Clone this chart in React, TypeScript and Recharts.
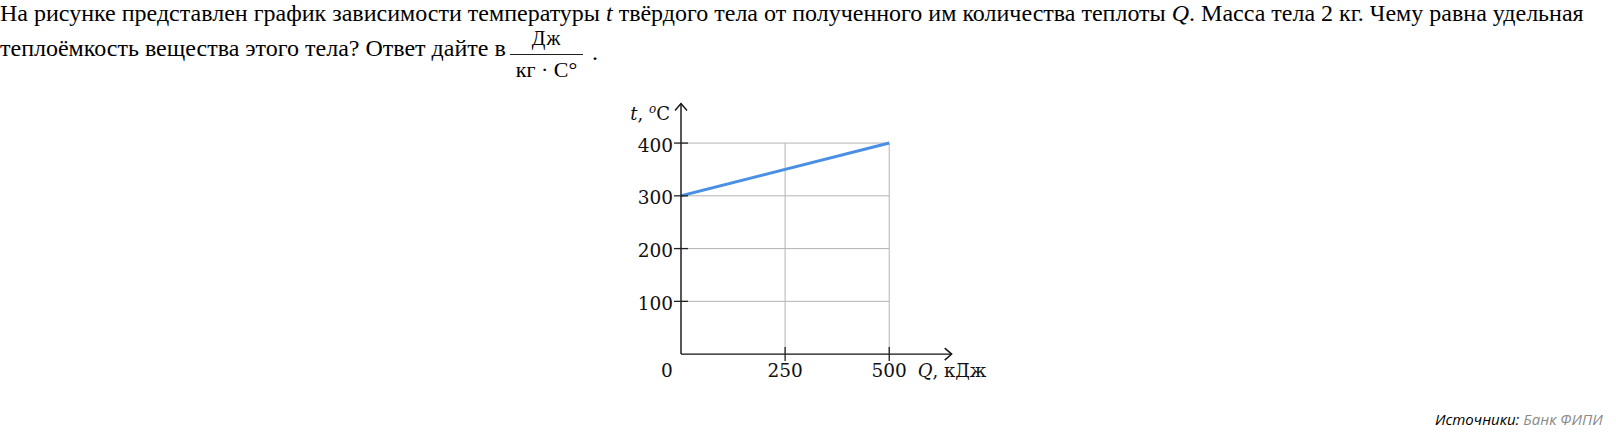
import React from 'react';
import { LineChart, Line, XAxis, YAxis, ReferenceLine, ReferenceDot } from 'recharts';

// ---- data ----
const qValues = [0, 500]; // Q, kJ
const tValues = [300, 400]; // t, °C
const xTicks = [0, 250, 500];
const yTicks = [100, 200, 300, 400];
const xDomainMax = 650;
const yDomainMax = 475;
const gridXMax = 500;
const gridYMax = 400;
const xAxisLabel = 'кДж';
const yAxisUnit = 'C';

const data = qValues.map((q, i) => ({ q, t: tValues[i] }));

// ---- styles ----
const TICK_SIZE = 7;
const X_TICK_MARGIN = 2;
const Y_TICK_MARGIN = 1;
const AXIS_FONT = '"DejaVu Serif", serif';
const AXIS_FONT_SIZE = 18.5;
const TEXT_COLOR = '#111';
const LINE_COLOR = '#4a8fe3';
const GRID_COLOR = '#b3b3b3';

const XTick = (props: any) => {
  const { x, y, payload } = props;
  const v = payload.value;
  const axisY = y - TICK_SIZE - X_TICK_MARGIN;
  return (
    <g>
      {v !== 0 && (
        <line x1={x} x2={x} y1={axisY - 7} y2={axisY + 7} stroke="#222" strokeWidth={1.3} />
      )}
      <text
        x={v === 0 ? x - 14 : x}
        y={axisY + 23}
        textAnchor="middle"
        fontFamily={AXIS_FONT}
        fontSize={AXIS_FONT_SIZE}
        fill={TEXT_COLOR}
      >
        {v}
      </text>
    </g>
  );
};

const YTick = (props: any) => {
  const { x, y, payload } = props;
  const axisX = x + TICK_SIZE + Y_TICK_MARGIN;
  return (
    <g>
      <line x1={axisX - 7} x2={axisX + 7} y1={y} y2={y} stroke="#222" strokeWidth={1.3} />
      <text
        x={x}
        y={y + 8.5}
        textAnchor="end"
        fontFamily={AXIS_FONT}
        fontSize={AXIS_FONT_SIZE}
        fill={TEXT_COLOR}
      >
        {payload.value}
      </text>
    </g>
  );
};

const XArrow = (props: any) => {
  const { cx, cy } = props;
  return (
    <path
      d={`M${cx - 7},${cy - 6} L${cx},${cy} L${cx - 7},${cy + 6}`}
      fill="none"
      stroke="#111"
      strokeWidth={1.4}
    />
  );
};

const YArrow = (props: any) => {
  const { cx, cy } = props;
  return (
    <path
      d={`M${cx - 6},${cy + 7} L${cx},${cy} L${cx + 6},${cy + 7}`}
      fill="none"
      stroke="#111"
      strokeWidth={1.4}
    />
  );
};

const YLabel = (props: any) => {
  const { viewBox } = props;
  const x = viewBox.x + viewBox.width - 11;
  const y = viewBox.y + 16.5;
  return (
    <text x={x} y={y} textAnchor="end" fontFamily={AXIS_FONT} fontSize={18} fill={TEXT_COLOR}>
      <tspan fontStyle="italic">t</tspan>
      <tspan>, </tspan>
      <tspan fontStyle="italic" fontSize={12} dy={-7}>o</tspan>
      <tspan dy={7}>{yAxisUnit}</tspan>
    </text>
  );
};

const XLabel = (props: any) => {
  const { viewBox } = props;
  const x = viewBox.x + viewBox.width - 34;
  const y = viewBox.y + 23;
  return (
    <text x={x} y={y} textAnchor="start" fontFamily={AXIS_FONT} fontSize={18} fill={TEXT_COLOR}>
      <tspan fontStyle="italic">Q</tspan>
      <tspan>, {xAxisLabel}</tspan>
    </text>
  );
};

const titleFont = '"Liberation Serif", "Times New Roman", serif';
const textLine: React.CSSProperties = {
  position: 'absolute',
  left: 0,
  fontFamily: titleFont,
  fontSize: 24,
  lineHeight: '24px',
  whiteSpace: 'nowrap',
  color: '#000',
};
const fracPart: React.CSSProperties = {
  position: 'absolute',
  left: 510,
  width: 73,
  textAlign: 'center',
  fontFamily: titleFont,
  fontSize: 22,
  lineHeight: '20px',
  whiteSpace: 'nowrap',
  color: '#000',
};

export default function App() {
  return (
    <div style={{ position: 'relative', width: 1616, height: 433, overflow: 'hidden', background: '#fff' }}>
      <style>{`body{margin:0;}`}</style>
      <div style={{ position: 'absolute', left: 0, top: 0 }}>
        <LineChart
          width={1616}
          height={433}
          data={data}
          margin={{ top: 103.5, left: 621, right: 664.3, bottom: 48.9 }}
        >
          <XAxis
            dataKey="q"
            type="number"
            domain={[0, xDomainMax]}
            ticks={xTicks}
            height={30}
            tickSize={TICK_SIZE}
            tickMargin={X_TICK_MARGIN}
            tickLine={{ stroke: 'none' }}
            axisLine={{ stroke: '#111', strokeWidth: 1.4 }}
            tick={<XTick />}
            interval={0}
            allowDataOverflow
            label={<XLabel />}
          />
          <YAxis
            dataKey="t"
            type="number"
            domain={[0, yDomainMax]}
            ticks={yTicks}
            width={60}
            tickSize={TICK_SIZE}
            tickMargin={Y_TICK_MARGIN}
            tickLine={{ stroke: 'none' }}
            axisLine={{ stroke: '#111', strokeWidth: 1.4 }}
            tick={<YTick />}
            interval={0}
            allowDataOverflow
            label={<YLabel />}
          />
          {xTicks.filter((v) => v > 0).map((v) => (
            <ReferenceLine
              key={`gx${v}`}
              segment={[{ x: v, y: 0 }, { x: v, y: gridYMax }]}
              stroke={GRID_COLOR}
              strokeWidth={1}
              ifOverflow="visible"
            />
          ))}
          {yTicks.map((v) => (
            <ReferenceLine
              key={`gy${v}`}
              segment={[{ x: 0, y: v }, { x: gridXMax, y: v }]}
              stroke={GRID_COLOR}
              strokeWidth={1}
              ifOverflow="visible"
            />
          ))}
          <Line
            dataKey="t"
            type="linear"
            stroke={LINE_COLOR}
            strokeWidth={3}
            dot={false}
            activeDot={false}
            isAnimationActive={false}
          />
          <ReferenceDot x={xDomainMax} y={0} r={0} shape={<XArrow />} ifOverflow="visible" />
          <ReferenceDot x={0} y={yDomainMax} r={0} shape={<YArrow />} ifOverflow="visible" />
        </LineChart>
      </div>

      {/* Question text */}
      <div style={{ ...textLine, top: 1.4 }}>
        На рисунке представлен график зависимости температуры <i>t</i> твёрдого тела от полученного им количества теплоты <i>Q</i>. Масса тела 2 кг. Чему равна удельная
      </div>
      <div style={{ ...textLine, top: 36 }}>
        теплоёмкость вещества этого тела? Ответ дайте в
      </div>
      {/* fraction */}
      <div style={{ ...fracPart, top: 28.3, fontSize: 20, letterSpacing: 1 }}>Дж</div>
      <div style={{ position: 'absolute', left: 510, width: 73, top: 53.5, height: 1, background: '#222' }} />
      <div style={{ ...fracPart, top: 59.5 }}>кг · C°</div>
      <div style={{ ...textLine, left: 592, top: 40 }}>.</div>

      {/* Source */}
      <div
        style={{
          position: 'absolute',
          left: 1435,
          top: 409,
          fontFamily: '"Open Sans", sans-serif',
          fontStyle: 'italic',
          fontSize: 15,
          lineHeight: '20px',
          whiteSpace: 'nowrap',
        }}
      >
        <span style={{ color: '#000' }}>Источники:</span>{' '}
        <span style={{ color: '#8a8a8a' }}>Банк ФИПИ</span>
      </div>
    </div>
  );
}
